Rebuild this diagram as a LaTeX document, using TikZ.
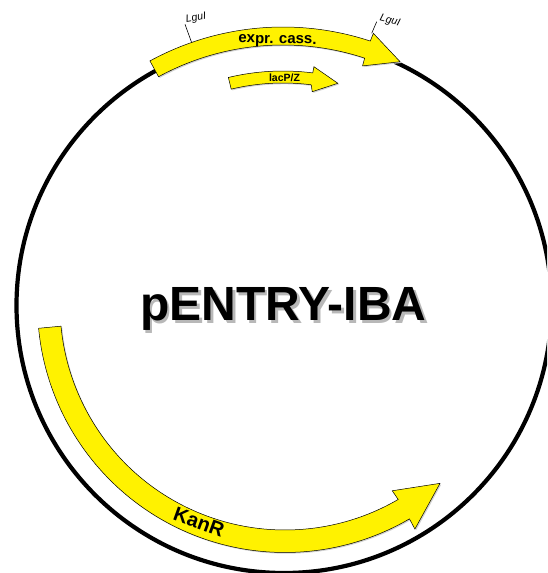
\documentclass[tikz,border=0pt]{standalone}
\usepackage{fontspec}
\setmainfont{Liberation Sans}
\newcommand{\pathExpr}{
  (118.6:278) arc[start angle=118.6,end angle=71.7,radius=278] -- (71.6:286.3) -- (64.3:270) -- (71.6:252) -- (71.7:260)
  arc[start angle=71.7,end angle=118.6,radius=260] -- cycle}
\newcommand{\pathLac}{
  (103.5:234) arc[start angle=103.5,end angle=82.7,radius=234] -- (82.6:240.3) -- (76.1:228.4) -- (82.2:215.3) -- (82.7:222)
  arc[start angle=82.7,end angle=103.5,radius=222] -- cycle}
\newcommand{\pathKan}{
  (185.4:247.5) arc[start angle=185.4,end angle=300.2,radius=247.5] -- (300.1:259) -- (311:236.3) -- (300:214.5) -- (300.2:225)
  arc[start angle=300.2,end angle=185.4,radius=225] -- cycle}
\tikzset{
  gene/.style={fill=yellow,draw=black,line width=0.5pt,line join=miter},
  geneshadow/.style={fill=black!18,draw=none},
  tick/.style={draw=black,line width=0.6pt},
  site/.style={font=\itshape\fontsize{10.5}{12}\selectfont,inner sep=0pt},
  genelabel/.style={inner sep=0pt},
  plasmidname/.style={font=\bfseries\fontsize{48}{54}\selectfont,inner sep=0pt}
}
\begin{document}
\begin{tikzpicture}[x=1pt,y=1pt]
\useasboundingbox (0,0) rectangle (547,573);
\clip (0,0) rectangle (547,573);
\fill[white] (0,0) rectangle (547,573);
% backbone
\draw[line width=4.2pt,black] (284,267.5) circle[radius=267.5];
% ticks drawn under the arrows
\coordinate (t1a) at (191.7,530.3);
\coordinate (t1b) at (185,548.7);
\coordinate (t2a) at (371.7,539.7);
\coordinate (t2b) at (376.7,551.3);
\draw[tick] (t1a) -- (t1b);
\draw[tick] (t2a) -- (t2b);
% arrows
\begin{scope}[shift={(283,268)}]
  \begin{scope}[xshift=1.2pt,yshift=-1.2pt]
    \fill[geneshadow] \pathExpr;
    \fill[geneshadow] \pathLac;
  \end{scope}
  \path[gene] \pathExpr;
  \path[gene] \pathLac;
\end{scope}
\begin{scope}[shift={(285,268)}]
  \begin{scope}[xshift=1.2pt,yshift=-1.2pt]
    \fill[geneshadow] \pathKan;
  \end{scope}
  \path[gene] \pathKan;
\end{scope}
% labels
\node[site,rotate=10] (s1) at (196,555) {LguI};
\node[site,rotate=-15] (s2) at (390,552) {LguI};
\node[genelabel,font=\bfseries\fontsize{15}{16}\selectfont,rotate=-1] (expr) at (277.5,532) {expr. cass.};
\node[genelabel,font=\bfseries\fontsize{10.5}{12}\selectfont] (lac) at (284.5,495) {lacP/Z};
\node[genelabel,font=\bfseries\fontsize{20}{22}\selectfont,rotate=-20] (kan) at (199,50.5) {KanR};
\node[plasmidname,text=black!28] (titleshadow) at (286,261.5) {pENTRY-IBA};
\node[plasmidname] (title) at (283.5,264) {pENTRY-IBA};
\end{tikzpicture}
\end{document}
